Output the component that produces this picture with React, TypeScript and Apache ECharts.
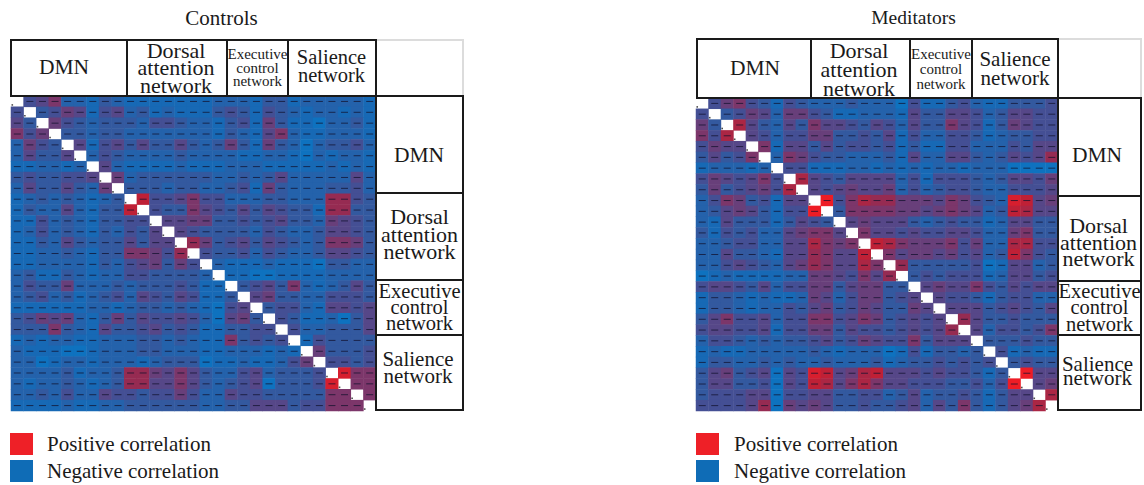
import React, { useEffect, useRef } from "react";
import * as echarts from "echarts";

const SERIF = '"Liberation Serif", serif';
const CELLS = 29;
const cellLabels = Array.from({ length: CELLS }, (_, i) => String(i + 1));

// colour levels 0 (most negative) .. 10 (most positive), upper triangle of each symmetric matrix
const colourScale = ["#0e72bf", "#1769b5", "#2462ab", "#33599f", "#444f94", "#564788", "#683f7a", "#7c366a", "#962b52", "#bf2036", "#ee1c25"];

const controlsUpper: number[][] = [
  [4,5,7,2,2,1,3,2, 1,1,1,1,1,1,1,2, 2,2,1,3,3, 1,2,2,2,2,2,1],
  [3,4,6,5,1,4,5, 2,3,1,2,1,1,1,3, 4,3,1,4,3, 2,1,2,2,1,2,1],
  [6,4,3,2,3,3, 3,2,4,4,3,2,2,1, 3,4,1,6,3, 1,1,0,2,2,3,1],
  [3,3,2,3,3, 2,2,2,2,2,2,2,1, 3,2,1,5,7, 2,1,1,2,2,2,1],
  [5,1,4,5, 3,5,3,3,5,3,2,3, 6,3,1,6,3, 2,0,2,3,3,4,2],
  [2,4,3, 2,2,2,2,3,2,2,2, 2,1,1,2,2, 1,0,2,1,2,2,1],
  [5,2, 1,1,1,1,2,1,1,1, 2,2,2,1,1, 1,1,1,2,1,2,1],
  [6, 2,3,3,3,3,3,3,2, 2,3,2,3,5, 2,2,2,2,2,5,2],
  [3,3,3,2,3,3,2,2, 3,4,1,6,3, 2,2,2,3,3,4,2],
  [9,4,4,5,7,4,4, 2,2,2,3,3, 2,2,2,8,8,4,3],
  [4,3,3,7,5,4, 3,5,3,5,4, 3,3,1,8,8,3,3],
  [5,5,6,6,3, 3,4,3,4,5, 3,3,2,6,5,4,3],
  [5,4,3,3, 3,3,2,4,3, 2,2,3,5,5,4,3],
  [8,6,3, 4,5,3,5,4, 3,2,3,7,7,6,3],
  [4,3, 3,4,2,4,3, 2,2,3,5,5,4,3],
  [2, 1,1,1,2,1, 1,1,0,3,3,2,2],
  [1,1,0,0,1, 1,1,1,2,2,2,2],
  [3,4,5,3, 7,2,1,2,3,5,3],
  [5,6,3, 3,2,2,4,4,4,3],
  [3,4, 4,2,1,5,5,4,5],
  [4, 3,1,1,2,0,3,5],
  [4,2,2,3,3,3,5],
  [1,4,3,3,3,3],
  [6,3,3,3,4],
  [4,4,3,4],
  [9.5,7,7],
  [7,7],
  [7],
];

const meditatorsUpper: number[][] = [
  [4,6,7,4,3,1,4,3, 2,2,2,3,2,2,2,0, 4,1,1,3,4, 2,1,1,3,3,3,4],
  [3,4,6,5,2,6,6, 4,3,1,1,2,2,2,1, 5,3,3,5,5, 4,2,3,5,5,4,4],
  [8.5,5,3,2,5,3, 7,5,5,4,3,5,4,2, 5,3,3,7,5, 4,1,3,6,5,4,4],
  [5,4,2,4,4, 6,6,3,3,4,3,5,1, 4,2,2,4,4, 3,1,2,3,3,4,4],
  [7,1,5,5, 3,5,3,4,4,3,4,1, 3,1,1,4,4, 2,2,2,4,3,5,5],
  [2,7,6, 4,3,3,2,2,2,3,1, 5,2,2,5,5, 3,2,3,5,4,5,8],
  [4,4, 1,1,1,2,2,1,2,1, 2,1,2,2,1, 2,2,2,0,0,0,0],
  [8.5, 5,4,3,5,5,5,5,2, 4,1,4,4,4, 3,2,3,5,5,4,6],
  [5,4,5,6,5,5,6,2, 4,2,3,4,4, 3,2,2,4,4,4,5],
  [10,4,7,8.5,8,8,6, 6,6,5,7,6, 4,3,2,9.5,9,5,6],
  [3,7,7,7,7,6, 6,5,6,7,6, 5,2,3,9,8.5,5,5],
  [5,6,5,5,5, 3,2,3,4,3, 3,1,2,5,5,3,3],
  [7,5,5,4, 5,4,4,5,5, 4,2,2,6,7,3,3],
  [9,8.5,7, 6,6,6,7,4, 6,2,2,8.5,8.5,4,4],
  [7,5, 6,6,5,6,4, 5,2,3,9,7,4,3],
  [8, 3,3,3,3,3, 4,0,1,5,5,2,3],
  [3,4,3,4,4, 4,1,2,5,5,3,4],
  [5,6,5,5, 7,4,3,5,4,5,5],
  [5,4,4, 3,1,3,4,4,2,2],
  [5,5, 5,3,4,5,4,3,5],
  [8, 5,3,3,4,3,3,3],
  [5,2,4,4,3,4,7],
  [3,3,3,4,3,3],
  [4,1,2,1,1],
  [3,4,3,3],
  [10,5,5],
  [5,6],
  [8.5],
];

const positiveLabel = "Positive correlation";
const negativeLabel = "Negative correlation";
const dmnText = "DMN";
const dorsalText = "Dorsal\nattention\nnetwork";
const executiveText = "Executive\ncontrol\nnetwork";
const salienceText = "Salience\nnetwork";

function buildCells(upper: number[][]) {
  const cells: number[][] = [];
  upper.forEach((row, r) =>
    row.forEach((v, k) => {
      const c = r + 1 + k;
      cells.push([c, r, v], [r, c, v]);
    })
  );
  return cells;
}

type Lbl = [number, number, number, number?]; // x, y, font size, line height

type Panel = {
  title: string;
  titleLeft: number;
  titleSize: number;
  upper: number[][];
  grid: { left: number; top: number; width: number; height: number };
  head: { x0: number; x1: number; x2: number; x3: number; x4: number; xEnd: number; y0: number; y1: number };
  side: { y1: number; y2: number; y3: number; y4: number };
  swatchX: number;
  textX: number;
  labels: { text: string; at: Lbl }[];
};

const panels: Panel[] = [
  {
    title: "Controls",
    titleLeft: 216.5,
    titleSize: 21,
    upper: controlsUpper,
    grid: { left: 11, top: 96, width: 365, height: 315 },
    head: { x0: 11, x1: 127, x2: 227, x3: 288, x4: 376, xEnd: 463, y0: 40, y1: 96 },
    side: { y1: 193, y2: 280, y3: 335, y4: 410 },
    swatchX: 10,
    textX: 47,
    labels: [
      { text: dmnText, at: [64, 67, 21.5] },
      { text: dorsalText, at: [176, 67.5, 22, 17.5] },
      { text: executiveText, at: [257.5, 67.5, 15, 13.5] },
      { text: salienceText, at: [331.5, 66, 20.5, 18] },
      { text: dmnText, at: [419, 155, 21.5] },
      { text: dorsalText, at: [419.5, 234, 22, 17.5] },
      { text: executiveText, at: [419.5, 307, 20.5, 16] },
      { text: salienceText, at: [418, 367, 21, 17] },
    ],
  },
  {
    title: "Meditators",
    titleLeft: 908.5,
    titleSize: 19.5,
    upper: meditatorsUpper,
    grid: { left: 696, top: 98, width: 362, height: 313 },
    head: { x0: 697, x1: 811, x2: 910, x3: 972, x4: 1058, xEnd: 1141, y0: 39, y1: 98 },
    side: { y1: 196, y2: 281, y3: 335, y4: 410 },
    swatchX: 696,
    textX: 734,
    labels: [
      { text: dmnText, at: [755, 68, 21.5] },
      { text: dorsalText, at: [859, 69, 22, 19] },
      { text: executiveText, at: [941, 69, 15, 15] },
      { text: salienceText, at: [1015, 68.5, 21, 19] },
      { text: dmnText, at: [1097, 155, 21.5] },
      { text: dorsalText, at: [1098.5, 242, 22, 16.5] },
      { text: executiveText, at: [1099.5, 307, 20.5, 16.5] },
      { text: salienceText, at: [1097.5, 371, 21, 14.5] },
    ],
  },
];

function rect(x0: number, y0: number, x1: number, y1: number, stroke = "#1a1a1a", lineWidth = 2) {
  return { type: "rect", z: 20, silent: true, shape: { x: x0, y: y0, width: x1 - x0, height: y1 - y0 }, style: { fill: "none", stroke, lineWidth } };
}

function label(text: string, at: Lbl) {
  const [x, y, fontSize, lineHeight] = at;
  return {
    type: "text",
    z: 21,
    silent: true,
    x,
    y,
    style: { text, fontFamily: SERIF, fontSize, lineHeight: lineHeight ?? fontSize, fill: "#1a1a1a", align: "center", verticalAlign: "middle" },
  };
}

function panelGraphics(p: Panel) {
  const { head: h, side: s } = p;
  return [
    rect(h.x4, h.y0, h.xEnd, h.y1, "#dcdcdc", 2),
    rect(h.x0, h.y0, h.x1, h.y1),
    rect(h.x1, h.y0, h.x2, h.y1),
    rect(h.x2, h.y0, h.x3, h.y1),
    rect(h.x3, h.y0, h.x4, h.y1),
    rect(h.x4, h.y1, h.xEnd, s.y1),
    rect(h.x4, s.y1, h.xEnd, s.y2),
    rect(h.x4, s.y2, h.xEnd, s.y3),
    rect(h.x4, s.y3, h.xEnd, s.y4),
    ...p.labels.map((l) => label(l.text, l.at)),
    { type: "rect", z: 5, silent: true, shape: { x: p.swatchX, y: 433, width: 23, height: 22 }, style: { fill: "#ee2027" } },
    { type: "rect", z: 5, silent: true, shape: { x: p.swatchX, y: 460, width: 23, height: 22 }, style: { fill: "#0f6cb6" } },
    { type: "text", z: 5, silent: true, x: p.textX, y: 444, style: { text: positiveLabel, fontFamily: SERIF, fontSize: 21, fill: "#1a1a1a", align: "left", verticalAlign: "middle" } },
    { type: "text", z: 5, silent: true, x: p.textX, y: 471, style: { text: negativeLabel, fontFamily: SERIF, fontSize: 21, fill: "#1a1a1a", align: "left", verticalAlign: "middle" } },
  ];
}

export default function App() {
  const ref = useRef<HTMLDivElement>(null);
  useEffect(() => {
    if (!ref.current) return;
    const chart = echarts.init(ref.current, undefined, { renderer: "svg" });
    const axes = panels.map((_, i) => i);
    const series: any[] = [];
    panels.forEach((p, i) => {
      const cells = buildCells(p.upper);
      series.push({ type: "heatmap", xAxisIndex: i, yAxisIndex: i, data: cells, silent: true, itemStyle: { borderWidth: 0 }, z: 1 });
      series.push({
        type: "scatter",
        xAxisIndex: i,
        yAxisIndex: i,
        data: cells.map((d) => [d[0], d[1]]),
        symbol: "rect",
        symbolSize: [7, 1],
        silent: true,
        itemStyle: { color: "#12122e", opacity: 0.75 },
        z: 2,
      });
      series.push({
        type: "scatter",
        xAxisIndex: i,
        yAxisIndex: i,
        data: cellLabels.map((_, k) => [k, k]),
        symbol: "rect",
        symbolSize: [1.6, 1.6],
        symbolOffset: [-5, 3.5],
        silent: true,
        itemStyle: { color: "#222" },
        z: 2,
      });
    });
    chart.setOption({
      animation: false,
      backgroundColor: "#fff",
      title: panels.map((p) => ({
        text: p.title,
        left: p.titleLeft,
        top: 2,
        textAlign: "center",
        textStyle: { fontFamily: SERIF, fontSize: p.titleSize, fontWeight: "normal", color: "#1a1a1a" },
      })),
      grid: panels.map((p) => ({ ...p.grid })),
      xAxis: axes.map((i) => ({ type: "category", gridIndex: i, data: cellLabels, show: false })),
      yAxis: axes.map((i) => ({ type: "category", gridIndex: i, data: cellLabels, inverse: true, show: false })),
      visualMap: {
        type: "continuous",
        show: false,
        min: 0,
        max: 10,
        dimension: 2,
        seriesIndex: [0, 3],
        inRange: { color: colourScale },
      },
      series,
      graphic: panels.flatMap(panelGraphics),
    });
    return () => chart.dispose();
  }, []);
  return <div ref={ref} style={{ position: "fixed", left: 0, top: 0, width: 1144, height: 485 }} />;
}
